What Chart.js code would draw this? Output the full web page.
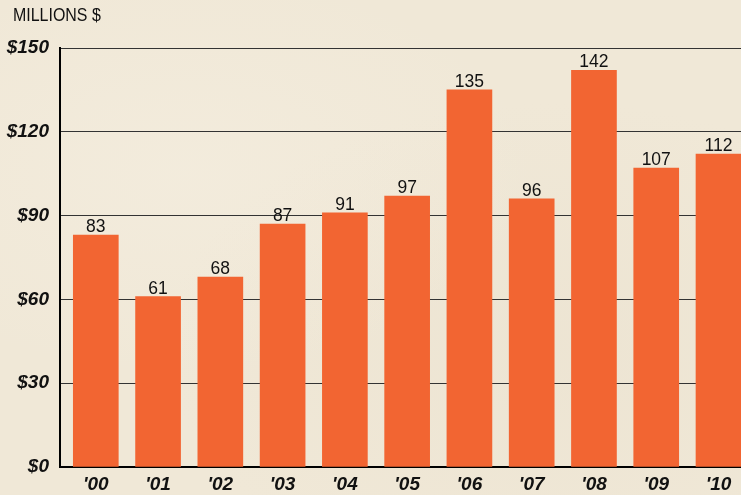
<!DOCTYPE html>
<html>
<head>
<meta charset="utf-8">
<script src="https://cdn.jsdelivr.net/npm/chart.js@4/dist/chart.umd.min.js"></script>
<style>
  html, body { margin: 0; padding: 0; }
  body {
    width: 741px; height: 495px; overflow: hidden;
    background-color: #f0e8d7;
    background-image:
      radial-gradient(ellipse at 25% 35%, rgba(248,242,230,0.35), rgba(248,242,230,0) 45%),
      radial-gradient(ellipse at 75% 70%, rgba(228,218,198,0.25), rgba(228,218,198,0) 50%);
  }
  #wrap { position: relative; width: 741px; height: 495px; }
  canvas { display: block; }
</style>
</head>
<body>
<div id="wrap"><canvas id="chart" width="741" height="495"></canvas></div>
<script>
const categories = ["'00", "'01", "'02", "'03", "'04", "'05", "'06", "'07", "'08", "'09", "'10"];
const revenue = [83, 61, 68, 87, 91, 97, 135, 96, 142, 107, 112];
const yTicks = [0, 30, 60, 90, 120, 150];
const unitLabel = "MILLIONS $";

const BAR_COLOR = "#f26532";
const INK = "#111111";

// Unit caption in the top-left corner, drawn slightly condensed
const captionPlugin = {
  id: "caption",
  afterDraw(chart) {
    const ctx = chart.ctx;
    ctx.save();
    ctx.fillStyle = INK;
    ctx.font = "19px 'Liberation Sans', Arial, sans-serif";
    ctx.textBaseline = "alphabetic";
    ctx.translate(13, 21);
    ctx.scale(0.84, 1);
    ctx.fillText(unitLabel, 0, 0);
    ctx.restore();
  }
};

// Value printed above each bar
const valueLabels = {
  id: "valueLabels",
  afterDatasetsDraw(chart) {
    const ctx = chart.ctx;
    const meta = chart.getDatasetMeta(0);
    ctx.save();
    ctx.fillStyle = INK;
    ctx.font = "17.5px 'Liberation Sans', Arial, sans-serif";
    ctx.textAlign = "center";
    ctx.textBaseline = "alphabetic";
    meta.data.forEach((bar, i) => {
      ctx.fillText(String(revenue[i]), bar.x, bar.y - 3);
    });
    ctx.restore();
  }
};

const PITCH = 62.27;
const xMin = -(95.8 - 60) / PITCH;
const xMax = xMin + 681 / PITCH;

new Chart(document.getElementById("chart"), {
  type: "bar",
  data: {
    datasets: [{
      data: revenue.map((v, i) => ({ x: i, y: v })),
      backgroundColor: BAR_COLOR,
      borderWidth: 0,
      barThickness: 45
    }]
  },
  options: {
    responsive: false,
    animation: false,
    devicePixelRatio: 1,
    layout: { padding: { top: 48, left: 0, right: 0, bottom: 0 } },
    plugins: { legend: { display: false }, tooltip: { enabled: false }, title: { display: false } },
    scales: {
      x: {
        type: "linear",
        min: xMin,
        max: xMax,
        offset: false,
        afterBuildTicks(scale) { scale.ticks = categories.map((c, i) => ({ value: i })); },
        afterFit(scale) { scale.height = 28; },
        grid: { display: false, drawTicks: false },
        border: { display: true, color: "#000", width: 2 },
        ticks: {
          autoSkip: false,
          maxRotation: 0,
          padding: 6,
          color: INK,
          font: { family: "'Liberation Sans', Arial, sans-serif", size: 19, weight: "bold", style: "italic" },
          callback: (v) => categories[v]
        }
      },
      y: {
        min: 0,
        max: 150,
        afterBuildTicks(scale) { scale.ticks = yTicks.map(v => ({ value: v })); },
        afterFit(scale) { scale.width = 60; },
        grid: { color: "#333333", lineWidth: 1, drawTicks: false },
        border: { display: true, color: "#000", width: 2 },
        ticks: {
          padding: 11,
          color: INK,
          font: { family: "'Liberation Sans', Arial, sans-serif", size: 19, weight: "bold", style: "italic" },
          callback: (v) => "$" + v
        }
      }
    }
  },
  plugins: [captionPlugin, valueLabels]
});
</script>
</body>
</html>
